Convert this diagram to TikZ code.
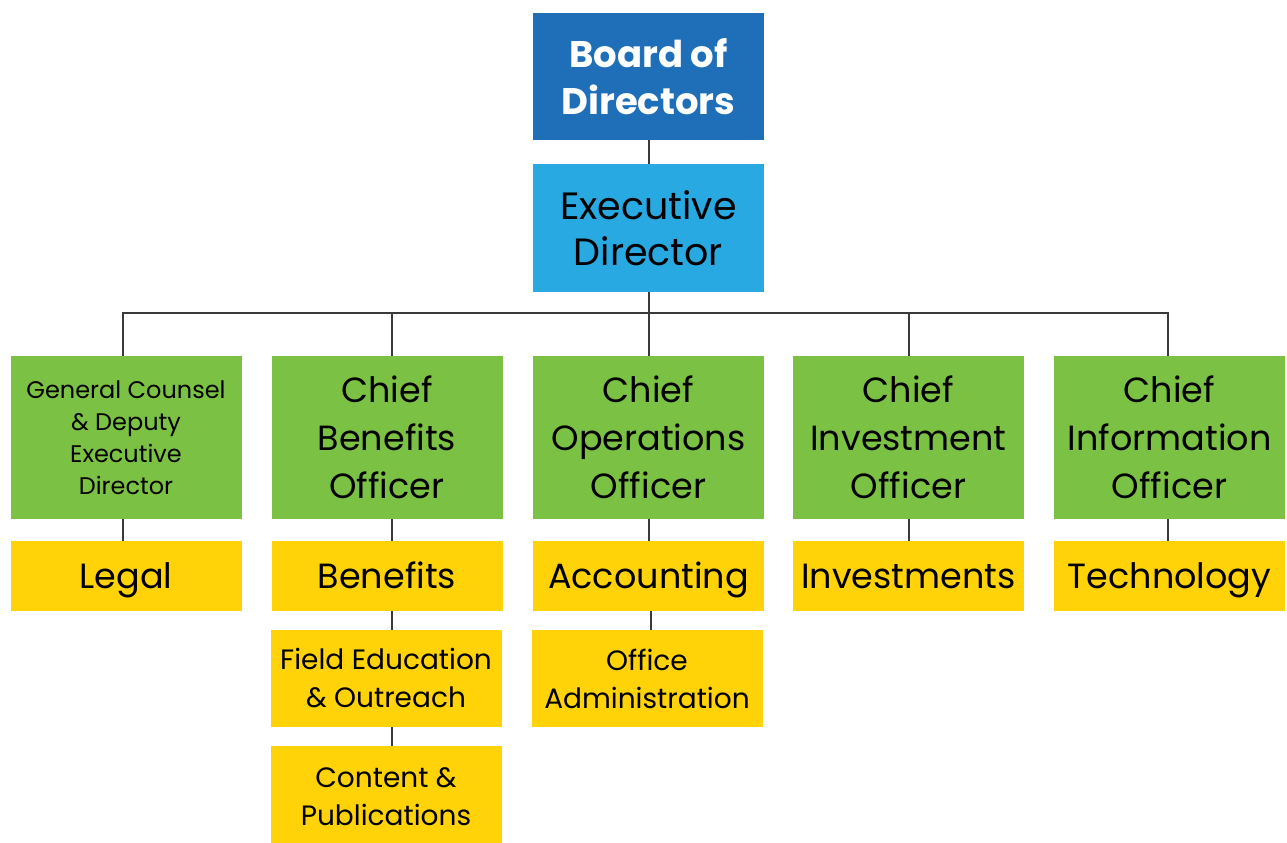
\documentclass[tikz,border=0pt]{standalone}
\usepackage{fontspec}
\setmainfont{Poppins}
\definecolor{boardblue}{HTML}{1E6EB8}
\definecolor{execblue}{HTML}{29A9E1}
\definecolor{officergreen}{HTML}{7BC143}
\definecolor{unityellow}{HTML}{FFD308}
\definecolor{linkgray}{HTML}{3A3A3A}
\begin{document}
\begin{tikzpicture}[x=0.5pt,y=-0.5pt,
  box/.style={rectangle, inner sep=0pt, align=center, minimum width=115.5pt, text=black},
  boardbox/.style={box, fill=boardblue, minimum height=63.5pt, text=white,
    font=\fontsize{18.5}{23.5}\selectfont\bfseries},
  execbox/.style={box, fill=execblue, minimum height=64pt,
    font=\fontsize{19}{23}\selectfont},
  officer/.style={box, fill=officergreen, minimum height=81.5pt,
    font=\fontsize{17.5}{24}\selectfont},
  officersmall/.style={officer, font=\fontsize{12}{16}\selectfont},
  unit/.style={box, fill=unityellow, minimum height=35pt, text height=15pt, text depth=3pt,
    font=\fontsize{17.5}{24}\selectfont},
  unittwo/.style={box, fill=unityellow, minimum height=48.5pt,
    font=\fontsize{14}{19}\selectfont},
  unitthree/.style={box, fill=unityellow, minimum height=51pt,
    font=\fontsize{14}{19}\selectfont},
  link/.style={draw=linkgray, line width=1pt}]
\useasboundingbox (0,0) rectangle (1287,842);

% top of the chart
\node[boardbox] (board) at (648.5,76.5) {Board of\\Directors};
\node[execbox] (exec) at (648.5,228) {Executive\\Director};

% officers
\node[officersmall] (gc)  at (126,437.5) {General Counsel\\\& Deputy\\Executive\\Director};
\node[officer] (cbo) at (387,437.5) {Chief\\Benefits\\Officer};
\node[officer] (coo) at (648.5,437.5) {Chief\\Operations\\Officer};
\node[officer] (cio) at (908.5,437.5) {Chief\\Investment\\Officer};
\node[officer] (cinfo) at (1169.5,437.5) {Chief\\Information\\Officer};

% units
\node[unit] (legal) at (126,576) {Legal};
\node[unit] (benefits) at (387,576) {Benefits};
\node[unit] (accounting) at (648.5,576) {Accounting};
\node[unit] (investments) at (908.5,576) {Investments};
\node[unit] (technology) at (1169.5,576) {Technology};
\node[unittwo] (field) at (386,678.5) {Field Education\\\& Outreach};
\node[unittwo] (office) at (647,678.5) {Office\\Administration};
\node[unitthree] (content) at (386,797) {Content \&\\Publications};

% connectors
\draw[link] (board.south) -- (exec.north);
\draw[link] (exec.south) -- ++(0,21) -| ([xshift=-1.5pt]gc.north);
\draw[link] (exec.south) -- ++(0,21) -| ([xshift=2.5pt]cbo.north);
\draw[link] (exec.south) -- ++(0,21) -| (coo.north);
\draw[link] (exec.south) -- ++(0,21) -| (cio.north);
\draw[link] (exec.south) -- ++(0,21) -| ([xshift=-1pt]cinfo.north);
\draw[link] ([xshift=-1.5pt]gc.south) -- ([xshift=-1.5pt]legal.north);
\draw[link] ([xshift=2.5pt]cbo.south) -- ([xshift=2.5pt]benefits.north);
\draw[link] (coo.south) -- (accounting.north);
\draw[link] (cio.south) -- (investments.north);
\draw[link] ([xshift=-1pt]cinfo.south) -- ([xshift=-1pt]technology.north);
\draw[link] ([xshift=2.5pt]benefits.south) -- ([xshift=2.5pt]benefits.south |- field.north);
\draw[link] ([xshift=3pt]field.south) -- ([xshift=3pt]field.south |- content.north);
\draw[link] ([xshift=1pt]accounting.south) -- ([xshift=1pt]accounting.south |- office.north);
\end{tikzpicture}
\end{document}
